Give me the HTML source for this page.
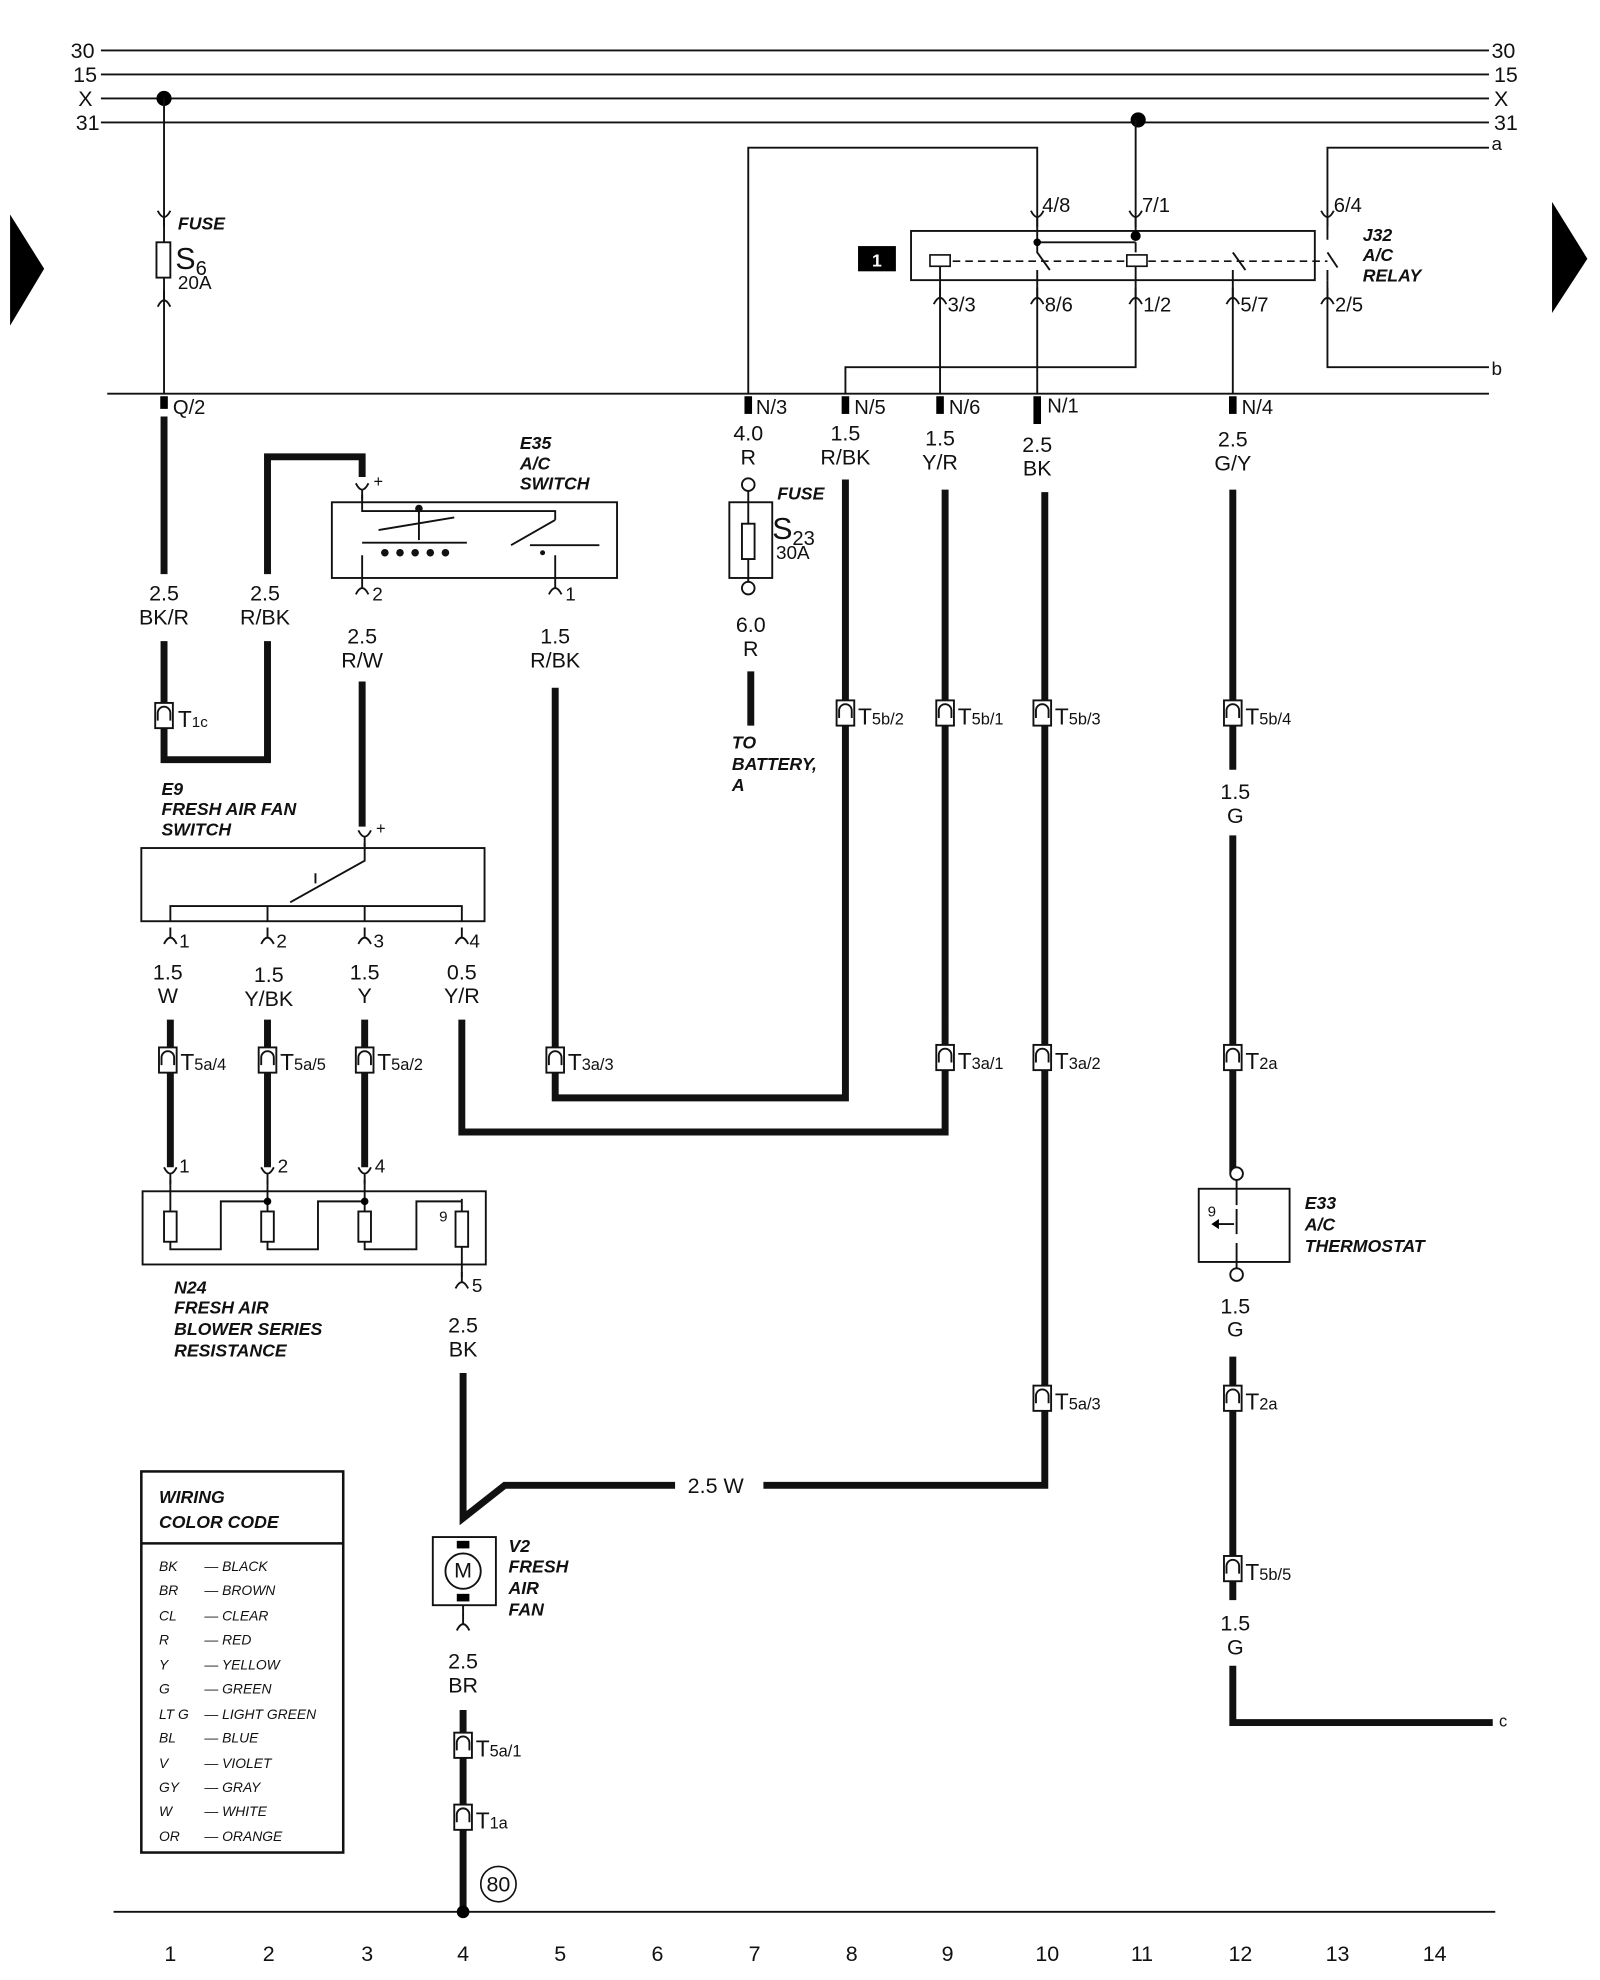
<!DOCTYPE html>
<html><head><meta charset="utf-8"><style>
html,body{margin:0;padding:0;background:#fff;}
svg{display:block;}
text{font-family:"Liberation Sans",sans-serif;fill:#111;}
.l{font-size:17px;text-anchor:middle;}
.b{font-size:14px;font-weight:bold;font-style:italic;}
.t{fill:none;stroke:#111;stroke-width:1.5;}
.k{fill:none;stroke:#111;stroke-width:5.5;}
.cc{font-size:11px;font-style:italic;}
</style></head><body>
<svg width="1600" height="1980" viewBox="0 0 1268 1569" preserveAspectRatio="none" xmlns="http://www.w3.org/2000/svg">
<defs>
<g id="c"><rect x="-7" y="-10" width="14" height="20" fill="#fff" stroke="#111" stroke-width="1.5"/><path d="M-5 4 V-2 A5 5 0 0 1 5 -2 V4" fill="none" stroke="#111" stroke-width="1.5"/></g>
<g id="tu"><path d="M-5 -5 Q0 5 5 -5 M0 0 V8" fill="none" stroke="#111" stroke-width="1.5"/></g>
<g id="td"><path d="M-5 5 Q0 -5 5 5 M0 0 V-8" fill="none" stroke="#111" stroke-width="1.5"/></g>
</defs>
<g class="t">
<line x1="80" y1="40" x2="1180" y2="40"/><line x1="80" y1="59" x2="1180" y2="59"/>
<line x1="80" y1="78" x2="1180" y2="78"/><line x1="80" y1="97" x2="1180" y2="97"/>
<line x1="85" y1="312" x2="1180" y2="312"/><line x1="90" y1="1515" x2="1185" y2="1515"/>
</g>
<g font-size="17"><text x="56" y="46">30</text><text x="58" y="65">15</text><text x="62" y="84">X</text><text x="60" y="103">31</text>
<text x="1182" y="46">30</text><text x="1184" y="65">15</text><text x="1184" y="84">X</text><text x="1184" y="103">31</text>
<text x="1182" y="119" font-size="15">a</text><text x="1182" y="297" font-size="15">b</text><text x="1188" y="1368" font-size="13">c</text></g>
<circle cx="130" cy="78" r="6"/><circle cx="902" cy="95" r="6"/>
<polygon points="8,170 35,213 8,258"/><polygon points="1230,160 1258,205 1230,248"/>
<g class="l" font-size="17">
<text x="135" y="1554">1</text><text x="213" y="1554">2</text><text x="291" y="1554">3</text><text x="367" y="1554">4</text><text x="444" y="1554">5</text><text x="521" y="1554">6</text><text x="598" y="1554">7</text><text x="675" y="1554">8</text><text x="751" y="1554">9</text><text x="830" y="1554">10</text><text x="905" y="1554">11</text><text x="983" y="1554">12</text><text x="1060" y="1554">13</text><text x="1137" y="1554">14</text></g>
<line class="t" x1="130" y1="78" x2="130" y2="312"/>
<rect x="124" y="192" width="11" height="28" fill="#fff" stroke="#111" stroke-width="1.5"/>
<use href="#tu" x="130" y="172"/><use href="#td" x="130" y="238"/>
<text class="b" x="141" y="182">FUSE</text><text x="139" y="213" font-size="24">S<tspan font-size="16" dy="5">6</tspan></text><text x="141" y="229" font-size="15">20A</text>
<rect x="127" y="314" width="6" height="10"/><text x="137" y="328" font-size="16">Q/2</text>
<path class="k" d="M130 330 V455 M130 508 V602 H212 V508 M212 455 V362 H287 V378"/>
<text class="l" x="130" y="476">2.5</text><text class="l" x="130" y="495">BK/R</text>
<text class="l" x="210" y="476">2.5</text><text class="l" x="210" y="495">R/BK</text>
<use href="#c" x="130" y="567"/><text x="141" y="576" font-size="18">T<tspan font-size="12">1c</tspan></text>
<rect x="263" y="398" width="226" height="60" fill="none" stroke="#111" stroke-width="1.5"/>
<text class="b" x="412" y="356">E35</text><text class="b" x="412" y="372">A/C</text><text class="b" x="412" y="388">SWITCH</text>
<use href="#tu" x="287" y="388"/><text x="296" y="386" font-size="13">+</text>
<use href="#td" x="287" y="466"/><text x="295" y="476" font-size="15">2</text>
<use href="#td" x="440" y="466"/><text x="448" y="476" font-size="15">1</text>
<path class="t" d="M287 392 V405 H440 V412 M332 405 V428 M287 430 H370 M300 420 L360 410 M405 432 L440 412 M420 432 H475 M287 458 V440 M440 458 V440"/>
<g fill="#111"><circle cx="332" cy="403" r="3"/><circle cx="305" cy="438" r="3"/><circle cx="317" cy="438" r="3"/><circle cx="329" cy="438" r="3"/><circle cx="341" cy="438" r="3"/><circle cx="353" cy="438" r="3"/><circle cx="430" cy="438" r="2"/></g>
<text class="l" x="287" y="510">2.5</text><text class="l" x="287" y="529">R/W</text>
<text class="l" x="440" y="510">1.5</text><text class="l" x="440" y="529">R/BK</text>
<path class="k" d="M287 540 V655"/>
<text class="b" x="128" y="630">E9</text><text class="b" x="128" y="646">FRESH AIR FAN</text><text class="b" x="128" y="662">SWITCH</text>
<use href="#tu" x="289" y="663"/><text x="298" y="661" font-size="13">+</text>
<rect x="112" y="672" width="272" height="58" fill="none" stroke="#111" stroke-width="1.5"/>
<path class="t" d="M289 668 V682 L230 715 M135 730 V718 H366 V730 M212 718 V730 M289 718 V730 M250 692 V700"/>
<use href="#td" x="135" y="743"/><use href="#td" x="212" y="743"/><use href="#td" x="289" y="743"/><use href="#td" x="366" y="743"/>
<text x="142" y="751" font-size="15">1</text><text x="219" y="751" font-size="15">2</text><text x="296" y="751" font-size="15">3</text><text x="372" y="751" font-size="15">4</text>
<text class="l" x="133" y="776">1.5</text><text class="l" x="133" y="795">W</text>
<text class="l" x="213" y="778">1.5</text><text class="l" x="213" y="797">Y/BK</text>
<text class="l" x="289" y="776">1.5</text><text class="l" x="289" y="795">Y</text>
<text class="l" x="366" y="776">0.5</text><text class="l" x="366" y="795">Y/R</text>
<path class="k" d="M135 808 V925 M212 808 V925 M289 808 V925 M366 808 V897 H749 V388 M440 545 V870 H670 V380 M828 390 V1177 H605 M535 1177 H400 L367 1203 V1088 M367 1355 V1515 M977 388 V610 M977 662 V930 M977 1075 V1268 M977 1320 V1365 H1183"/>
<use href="#c" x="133" y="840"/><text x="143" y="848" font-size="18">T<tspan font-size="13">5a/4</tspan></text>
<use href="#c" x="212" y="840"/><text x="222" y="848" font-size="18">T<tspan font-size="13">5a/5</tspan></text>
<use href="#c" x="289" y="840"/><text x="299" y="848" font-size="18">T<tspan font-size="13">5a/2</tspan></text>
<use href="#c" x="440" y="840"/><text x="450" y="848" font-size="18">T<tspan font-size="13">3a/3</tspan></text>
<use href="#tu" x="135" y="930"/><use href="#tu" x="212" y="930"/><use href="#tu" x="289" y="930"/>
<text x="142" y="929" font-size="15">1</text><text x="220" y="929" font-size="15">2</text><text x="297" y="929" font-size="15">4</text>
<rect x="113" y="944" width="272" height="58" fill="none" stroke="#111" stroke-width="1.5"/>
<path class="t" d="M135 935 V960 M212 935 V960 M289 935 V960 M366 950 V960 M135 984 V990 H175 V952 H212 V960 M212 984 V990 H252 V952 H289 V960 M289 984 V990 H330 V952 H366 M366 984 V1012"/>
<g fill="#fff" stroke="#111" stroke-width="1.5"><rect x="130" y="960" width="10" height="24"/><rect x="207" y="960" width="10" height="24"/><rect x="284" y="960" width="10" height="24"/><rect x="361" y="960" width="10" height="28"/></g>
<circle cx="212" cy="952" r="3"/><circle cx="289" cy="952" r="3"/>
<text x="348" y="968" font-size="12">9</text>
<use href="#td" x="366" y="1016"/><text x="374" y="1024" font-size="15">5</text>
<text class="b" x="138" y="1025">N24</text><text class="b" x="138" y="1041">FRESH AIR</text><text class="b" x="138" y="1058">BLOWER SERIES</text><text class="b" x="138" y="1075">RESISTANCE</text>
<text class="l" x="367" y="1056">2.5</text><text class="l" x="367" y="1075">BK</text>
<text x="545" y="1183" font-size="17">2.5 W</text>
<rect x="343" y="1218" width="50" height="54" fill="#fff" stroke="#111" stroke-width="1.5"/>
<rect x="362" y="1221" width="10" height="6"/><rect x="362" y="1263" width="10" height="6"/>
<circle cx="367" cy="1245" r="14" fill="#fff" stroke="#111" stroke-width="1.5"/><text class="l" x="367" y="1250" font-size="13">M</text>
<text class="b" x="403" y="1230">V2</text><text class="b" x="403" y="1246">FRESH</text><text class="b" x="403" y="1263">AIR</text><text class="b" x="403" y="1280">FAN</text>
<use href="#td" x="367" y="1287"/><line class="t" x1="367" y1="1272" x2="367" y2="1280"/>
<text class="l" x="367" y="1322">2.5</text><text class="l" x="367" y="1341">BR</text>
<use href="#c" x="367" y="1383"/><text x="377" y="1392" font-size="18">T<tspan font-size="13">5a/1</tspan></text>
<use href="#c" x="367" y="1440"/><text x="377" y="1449" font-size="18">T<tspan font-size="13">1a</tspan></text>
<circle cx="395" cy="1493" r="14" fill="#fff" stroke="#111" stroke-width="1.3"/><text class="l" x="395" y="1499" font-size="15">80</text>
<circle cx="367" cy="1515" r="5"/>
<rect x="112" y="1166" width="160" height="302" fill="none" stroke="#111" stroke-width="2"/>
<line x1="112" y1="1223" x2="272" y2="1223" stroke="#111" stroke-width="2"/>
<text class="b" x="126" y="1191" font-size="15">WIRING</text><text class="b" x="126" y="1211" font-size="15">COLOR CODE</text>
<g class="cc">
<text x="126" y="1245">BK</text><text x="162" y="1245">— BLACK</text>
<text x="126" y="1264">BR</text><text x="162" y="1264">— BROWN</text>
<text x="126" y="1284">CL</text><text x="162" y="1284">— CLEAR</text>
<text x="126" y="1303">R</text><text x="162" y="1303">— RED</text>
<text x="126" y="1323">Y</text><text x="162" y="1323">— YELLOW</text>
<text x="126" y="1342">G</text><text x="162" y="1342">— GREEN</text>
<text x="126" y="1362">LT G</text><text x="162" y="1362">— LIGHT GREEN</text>
<text x="126" y="1381">BL</text><text x="162" y="1381">— BLUE</text>
<text x="126" y="1401">V</text><text x="162" y="1401">— VIOLET</text>
<text x="126" y="1420">GY</text><text x="162" y="1420">— GRAY</text>
<text x="126" y="1439">W</text><text x="162" y="1439">— WHITE</text>
<text x="126" y="1459">OR</text><text x="162" y="1459">— ORANGE</text>
</g>
<path class="t" d="M593 312 V117 H822 V190 M900 95 V183 M1180 117 H1052 V190 M1052 222 V291 H1180 M900 222 V291 H670 V312 M745 222 V312 M822 222 V312 M977 222 V312"/>
<rect x="590" y="314" width="6" height="14"/><text x="599" y="328" font-size="16">N/3</text>
<text class="l" x="593" y="349">4.0</text><text class="l" x="593" y="368">R</text>
<circle cx="593" cy="384" r="5" fill="#fff" stroke="#111" stroke-width="1.5"/>
<rect x="578" y="398" width="34" height="60" fill="none" stroke="#111" stroke-width="1.5"/>
<rect x="588" y="415" width="10" height="28" fill="#fff" stroke="#111" stroke-width="1.5"/>
<path class="t" d="M593 389 V415 M593 443 V461"/>
<circle cx="593" cy="466" r="5" fill="#fff" stroke="#111" stroke-width="1.5"/>
<text class="b" x="616" y="396">FUSE</text><text x="612" y="427" font-size="24">S<tspan font-size="16" dy="5">23</tspan></text><text x="615" y="443" font-size="15">30A</text>
<text class="l" x="595" y="501">6.0</text><text class="l" x="595" y="520">R</text>
<path class="k" d="M595 532 V575"/>
<text class="b" x="580" y="593">TO</text><text class="b" x="580" y="610">BATTERY,</text><text class="b" x="580" y="627">A</text>
<rect x="680" y="195" width="30" height="20"/><text x="695" y="211" font-size="14" font-weight="bold" text-anchor="middle" style="fill:#fff">1</text>
<rect x="722" y="183" width="320" height="39" fill="none" stroke="#111" stroke-width="1.5"/>
<path class="t" d="M822 192 H900 M822 192 V200 L832 214 M822 214 V222 M900 192 V200 M977 200 L987 214 M977 214 V222 M1052 200 L1060 212 M1052 214 V222"/>
<path d="M755 207 H895 M910 207 H1052" stroke="#111" stroke-width="1.3" stroke-dasharray="6,4" fill="none"/>
<rect x="737" y="202" width="16" height="9" fill="#fff" stroke="#111" stroke-width="1.3"/>
<rect x="893" y="202" width="16" height="9" fill="#fff" stroke="#111" stroke-width="1.3"/>
<path class="t" d="M745 211 V222 M900 211 V222"/>
<circle cx="822" cy="192" r="3"/><circle cx="900" cy="187" r="4"/>
<use href="#tu" x="822" y="172"/><use href="#tu" x="900" y="172"/><use href="#tu" x="1052" y="172"/>
<text x="826" y="168" font-size="16">4/8</text><text x="905" y="168" font-size="16">7/1</text><text x="1057" y="168" font-size="16">6/4</text>
<use href="#td" x="745" y="236"/><use href="#td" x="822" y="236"/><use href="#td" x="900" y="236"/><use href="#td" x="977" y="236"/><use href="#td" x="1052" y="236"/>
<text x="751" y="247" font-size="16">3/3</text><text x="828" y="247" font-size="16">8/6</text><text x="906" y="247" font-size="16">1/2</text><text x="983" y="247" font-size="16">5/7</text><text x="1058" y="247" font-size="16">2/5</text>
<text class="b" x="1080" y="191">J32</text><text class="b" x="1080" y="207">A/C</text><text class="b" x="1080" y="223">RELAY</text>
<rect x="667" y="314" width="6" height="14"/><text x="677" y="328" font-size="16">N/5</text>
<rect x="742" y="314" width="6" height="14"/><text x="752" y="328" font-size="16">N/6</text>
<rect x="819" y="314" width="6" height="22"/><text x="830" y="327" font-size="16">N/1</text>
<rect x="974" y="314" width="6" height="14"/><text x="984" y="328" font-size="16">N/4</text>
<text class="l" x="670" y="349">1.5</text><text class="l" x="670" y="368">R/BK</text>
<text class="l" x="745" y="353">1.5</text><text class="l" x="745" y="372">Y/R</text>
<text class="l" x="822" y="358">2.5</text><text class="l" x="822" y="377">BK</text>
<text class="l" x="977" y="354">2.5</text><text class="l" x="977" y="373">G/Y</text>
<use href="#c" x="670" y="565"/><text x="680" y="574" font-size="18">T<tspan font-size="13">5b/2</tspan></text>
<use href="#c" x="749" y="565"/><text x="759" y="574" font-size="18">T<tspan font-size="13">5b/1</tspan></text>
<use href="#c" x="826" y="565"/><text x="836" y="574" font-size="18">T<tspan font-size="13">5b/3</tspan></text>
<use href="#c" x="977" y="565"/><text x="987" y="574" font-size="18">T<tspan font-size="13">5b/4</tspan></text>
<use href="#c" x="749" y="838"/><text x="759" y="847" font-size="18">T<tspan font-size="13">3a/1</tspan></text>
<use href="#c" x="826" y="838"/><text x="836" y="847" font-size="18">T<tspan font-size="13">3a/2</tspan></text>
<use href="#c" x="977" y="838"/><text x="987" y="847" font-size="18">T<tspan font-size="13">2a</tspan></text>
<use href="#c" x="826" y="1108"/><text x="836" y="1117" font-size="18">T<tspan font-size="13">5a/3</tspan></text>
<use href="#c" x="977" y="1108"/><text x="987" y="1117" font-size="18">T<tspan font-size="13">2a</tspan></text>
<use href="#c" x="977" y="1243"/><text x="987" y="1252" font-size="18">T<tspan font-size="13">5b/5</tspan></text>
<text class="l" x="979" y="633">1.5</text><text class="l" x="979" y="652">G</text>
<text class="l" x="979" y="1041">1.5</text><text class="l" x="979" y="1059">G</text>
<text class="l" x="979" y="1292">1.5</text><text class="l" x="979" y="1311">G</text>
<circle cx="980" cy="930" r="5" fill="#fff" stroke="#111" stroke-width="1.5"/>
<rect x="950" y="942" width="72" height="58" fill="none" stroke="#111" stroke-width="1.5"/>
<path class="t" d="M980 935 V955 M980 958 V978 M980 985 V1005 M966 970 H978"/>
<path d="M960 970 l6 -4 v8 z"/>
<text x="957" y="964" font-size="12">9</text>
<circle cx="980" cy="1010" r="5" fill="#fff" stroke="#111" stroke-width="1.5"/>
<text class="b" x="1034" y="958">E33</text><text class="b" x="1034" y="975">A/C</text><text class="b" x="1034" y="992">THERMOSTAT</text>
</svg>
</body></html>
